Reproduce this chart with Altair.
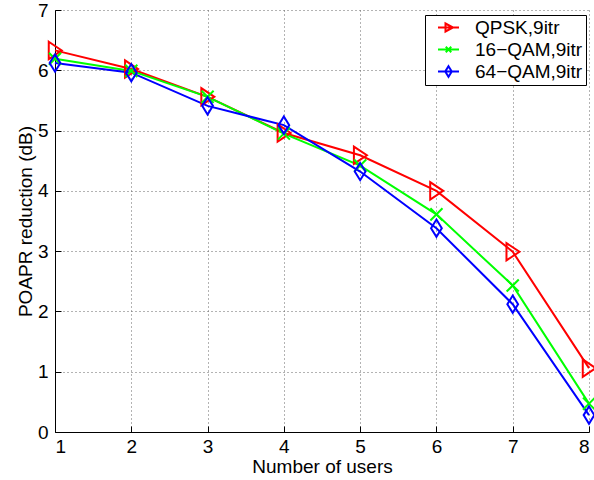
import altair as alt
import pandas as pd

users = [1, 2, 3, 4, 5, 6, 7, 8]
qpsk = [6.33, 6.02, 5.56, 4.96, 4.59, 4.00, 2.99, 1.06]
qam16 = [6.19, 5.99, 5.56, 4.95, 4.42, 3.61, 2.43, 0.47]
qam64 = [6.12, 5.96, 5.41, 5.09, 4.32, 3.38, 2.12, 0.28]
series_names = ["QPSK,9itr", "16\u2212QAM,9itr", "64\u2212QAM,9itr"]
series_colors = ["#ff0000", "#00ff00", "#0000ff"]
x_ticks = [1, 2, 3, 4, 5, 6, 7, 8]
y_ticks = [0, 1, 2, 3, 4, 5, 6, 7]

# marker outlines (data) and legend glyphs (line + marker)
marker_paths = [
    "M-0.72,-1L0.78,0L-0.72,1Z",
    "M-0.7,-0.7L0.7,0.7M-0.7,0.7L0.7,-0.7",
    "M0,-1L0.62,0L0,1L-0.62,0Z",
]
legend_paths = [
    "M-2.1,0L2.1,0M-0.6,-0.8L0.9,0L-0.6,0.8Z",
    "M-2.1,0L2.1,0M-0.55,-0.55L0.55,0.55M-0.55,0.55L0.55,-0.55",
    "M-2.1,0L2.1,0M0,-1.05L0.65,0L0,1.05L-0.65,0Z",
]

rows = []
for name, vals in zip(series_names, [qpsk, qam16, qam64]):
    for u, v in zip(users, vals):
        rows.append({"users": u, "value": v, "series": name})
df = pd.DataFrame(rows)

FONT = "Liberation Sans"
FS = 19

x_enc = alt.X("users:Q", scale=alt.Scale(domain=[1, 8], nice=False),
              axis=alt.Axis(values=x_ticks, title="Number of users", format="d",
                            tickSize={"expr": "-6"}, labelPadding=11, titlePadding=1))
y_enc = alt.Y("value:Q", scale=alt.Scale(domain=[0, 7], nice=False),
              axis=alt.Axis(values=y_ticks, title="POAPR reduction (dB)", format="d",
                            tickSize={"expr": "-6"}, labelPadding=13, titlePadding=2))

color_scale = alt.Scale(domain=series_names, range=series_colors)

lines = alt.Chart(df).mark_line(strokeWidth=2).encode(
    x=x_enc, y=y_enc,
    color=alt.Color("series:N", scale=color_scale, legend=None),
    detail="series:N",
)

points = alt.Chart(df).mark_point(filled=False, size=300, strokeWidth=2, opacity=1).encode(
    x=x_enc, y=y_enc,
    color=alt.Color("series:N", scale=color_scale, legend=None),
    shape=alt.Shape("series:N", scale=alt.Scale(domain=series_names, range=marker_paths), legend=None),
)

legend_layer = alt.Chart(df).transform_filter("false").mark_point(
    filled=False, size=256, strokeWidth=2, opacity=1
).encode(
    x=x_enc, y=y_enc,
    color=alt.Color("series:N", scale=color_scale,
                    legend=alt.Legend(title=None, orient="none", legendX=370, legendY=5)),
    shape=alt.Shape("series:N", scale=alt.Scale(domain=series_names, range=legend_paths),
                    legend=alt.Legend(title=None, orient="none", legendX=370, legendY=5)),
)

chart = alt.layer(lines, points, legend_layer).resolve_scale(
    color="independent", shape="independent"
).properties(
    width=534, height=422,
    autosize=alt.AutoSizeParams(type="none"),
    padding={"left": 55, "top": 10, "right": 5, "bottom": 48},
).configure_view(stroke=None).configure_axis(
    labelFont=FONT, labelFontSize=FS, labelColor="#000",
    titleFont=FONT, titleFontSize=FS, titleFontWeight="normal", titleColor="#000",
    domainColor="#000", domainWidth=1, tickColor="#000", tickWidth=1,
    grid=True, gridColor="#666", gridDash=[1, 3], gridWidth=1, gridOpacity=1,
).configure_legend(
    labelFont=FONT, labelFontSize=FS, labelColor="#000",
    strokeColor="#000", fillColor="#fff", padding=3,
    symbolStrokeWidth=2, symbolOffset=11, labelOffset=17, rowPadding=2,
    cornerRadius=0,
)

chart.save("out.html", embed_options={"renderer": "svg", "actions": False})
